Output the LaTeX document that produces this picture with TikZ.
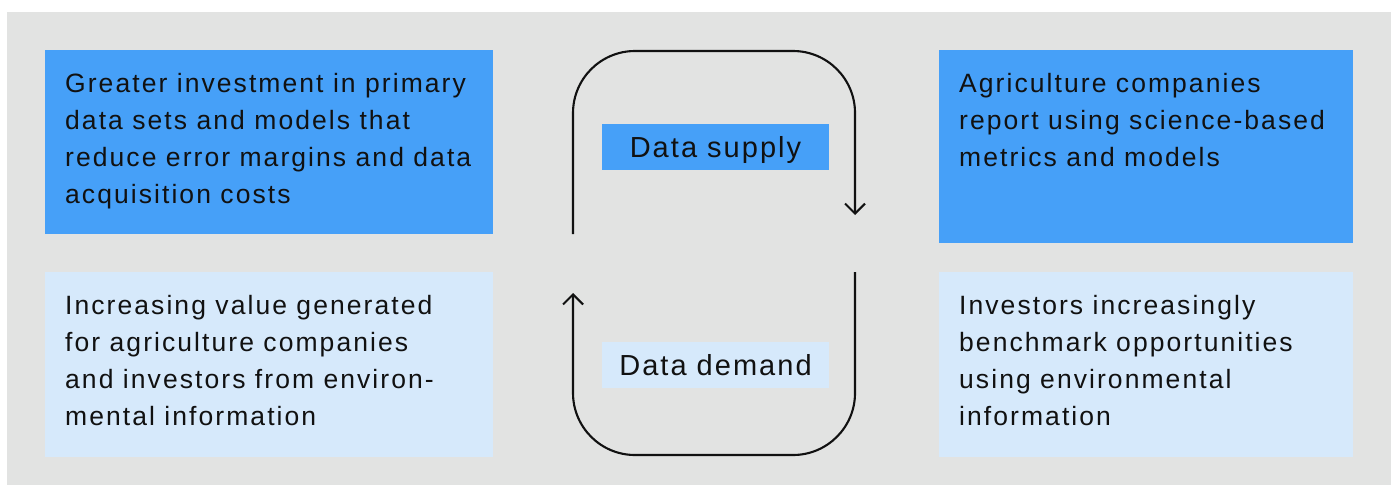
\documentclass[tikz,border=0pt]{standalone}
\usepackage{fontspec}
\setmainfont{Liberation Sans}[LetterSpace=7]
\newfontfamily\bodyfont{Liberation Sans}[LetterSpace=7.8]
\usetikzlibrary{arrows.meta}
\definecolor{panelgray}{HTML}{E2E3E2}
\definecolor{boxblue}{HTML}{46A0F8}
\definecolor{boxpale}{HTML}{D6E9FB}
\definecolor{inkblack}{HTML}{111111}
\tikzset{
  card/.style={anchor=north west, inner sep=0pt, minimum width=#1},
  % multi-line text is anchored at the baseline of its last line
  bodytext/.style={anchor=base west, inner sep=0pt, align=left, text=inkblack,
    font=\bodyfont\fontsize{26.5pt}{37pt}\selectfont},
  % label box centred on the capital height, ignoring descenders
  tag/.style={inner sep=0pt, minimum width=227pt, minimum height=46pt,
    text height=21pt, text depth=0pt,
    text=inkblack, font=\fontsize{29pt}{34pt}\selectfont},
  loop/.style={line width=2.1pt, draw=inkblack, rounded corners=62pt},
  tip/.style={-{Straight Barb[length=10pt,width=20pt,line width=2.1pt]}}
}
\begin{document}
\begin{tikzpicture}[x=1pt,y=-1pt]
  \useasboundingbox (0,0) rectangle (1396,485);
  \fill[panelgray] (7,12) rectangle (1391,485);

  % four statement cards
  \node[card=448pt, minimum height=184pt, fill=boxblue] (invest) at (45,50) {};
  \node[card=448pt, minimum height=185pt, fill=boxpale] (value) at (45,272) {};
  \node[card=414pt, minimum height=193pt, fill=boxblue] (report) at (939,50) {};
  \node[card=414pt, minimum height=185pt, fill=boxpale] (bench) at (939,272) {};

  % first baselines at 92 / 314, line pitch 37
  \node[bodytext] (investtxt) at (65,203) {Greater investment in primary\\data sets and models that\\reduce error margins and data\\acquisition costs};
  \node[bodytext] (valuetxt) at (65,425) {Increasing value generated\\for agriculture companies\\and investors from environ-\\mental information};
  \node[bodytext] (reporttxt) at (959,166) {Agriculture companies\\report using science-based\\metrics and models};
  \node[bodytext] (benchtxt) at (959,425) {Investors increasingly\\benchmark opportunities\\using environmental\\information};

  % loop labels
  \node[tag, fill=boxblue] (supply) at (715.5,147) {Data supply};
  \node[tag, fill=boxpale] (demand) at (715.5,365) {Data demand};

  % loop ends
  \coordinate (supplyfrom) at (573,234);
  \coordinate (supplyto) at (855,215);
  \coordinate (demandfrom) at (855,272);
  \coordinate (demandto) at (573,293);

  \draw[loop, tip] (supplyfrom) |- (supply.center |- 0,51) -| (supplyto);
  \draw[loop, tip] (demandfrom) |- (demand.center |- 0,455) -| (demandto);
\end{tikzpicture}
\end{document}
